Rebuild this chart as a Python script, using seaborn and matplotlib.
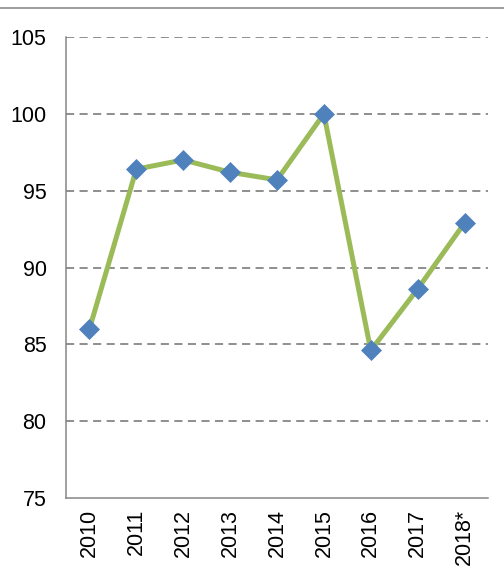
import matplotlib
matplotlib.use("Agg")
import matplotlib.pyplot as plt
import seaborn as sns
import pandas as pd
from matplotlib.lines import Line2D

# data
years = ['2010', '2011', '2012', '2013', '2014', '2015', '2016', '2017', '2018*']
values = [86.0, 96.4, 97.0, 96.2, 95.7, 100.0, 84.6, 88.6, 92.9]
y_ticks = [75, 80, 85, 90, 95, 100, 105]

sns.set_style("white")
plt.rcParams['font.family'] = ['Liberation Sans', 'DejaVu Sans']

df = pd.DataFrame({'pos': range(len(years)), 'value': values})

fig = plt.figure(figsize=(5.04, 5.77), dpi=100)
ax = fig.add_axes([66 / 504, 1 - 498 / 577, (488 - 66) / 504, (498 - 37) / 577])

grid_col = '#868686'
for t in y_ticks[1:]:
    ax.axhline(t, color=grid_col, lw=1.3, linestyle=(0, (4.5, 3)), zorder=1)

sns.lineplot(data=df, x='pos', y='value', ax=ax, color='#9bbb59', lw=3.6,
             marker='D', markersize=10.5, markerfacecolor='#4f81bd',
             markeredgecolor='#4f81bd', markeredgewidth=0.5, zorder=3)

ax.set_xlim(-0.5, len(years) - 0.5)
ax.set_ylim(75, 105)
ax.set_yticks(y_ticks)
ax.set_yticklabels([str(t) for t in y_ticks], fontsize=15.5, color='black')
ax.set_xticks(range(len(years)))
ax.set_xticklabels(years, rotation=90, fontsize=15.5, color='black')
ax.set_xticks([i - 0.5 for i in range(len(years) + 1)], minor=True)
ax.tick_params(axis='x', which='major', length=0, pad=8)
ax.tick_params(axis='x', which='minor', length=5, color=grid_col, width=1.1, direction='out')
ax.tick_params(axis='y', length=5, color=grid_col, width=1.1, direction='out', pad=9)
ax.set_xlabel('')
ax.set_ylabel('')

for side in ['top', 'right']:
    ax.spines[side].set_visible(False)
for side in ['left', 'bottom']:
    ax.spines[side].set_color(grid_col)
    ax.spines[side].set_linewidth(1.1)

# thin frame line at the top of the picture
fig.add_artist(Line2D([0, 1], [1 - 8 / 577, 1 - 8 / 577], color='#8c8c8c', lw=1.2,
                      transform=fig.transFigure))

fig.savefig('out.png', dpi=100)
